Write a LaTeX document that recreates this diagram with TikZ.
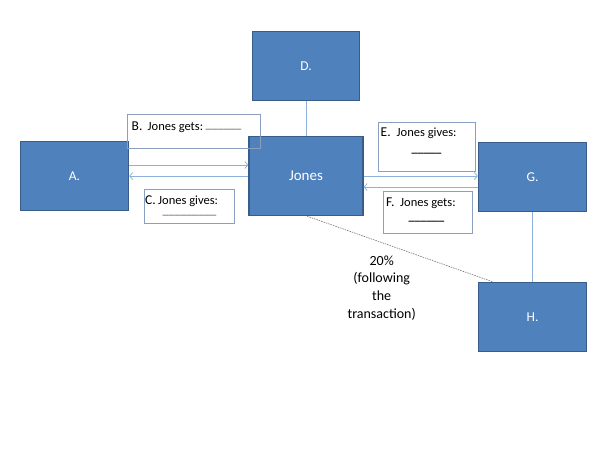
\documentclass[tikz,border=0pt]{standalone}
\usepackage{fontspec}
\setmainfont{Carlito}
\usetikzlibrary{arrows.meta,calc}
\definecolor{boxfill}{HTML}{4F81BD}
\definecolor{boxline}{HTML}{385D8A}
\definecolor{connc}{HTML}{8EB1DC}
\definecolor{tbline}{HTML}{8A9FC0}
\definecolor{ulgray}{HTML}{7F7F7F}
\begin{document}
\begin{tikzpicture}[x=1pt,y=-1pt,
  bluebox/.style={draw=boxline, fill=boxfill, line width=1.3pt, inner sep=0pt, text=white, font=\fontsize{13.5}{16}\selectfont},
  notebox/.style={draw=tbline, line width=0.8pt, inner sep=0pt},
  conn/.style={draw=connc, line width=0.8pt},
  arr/.style={conn, -{Straight Barb[length=3pt,width=7pt]}},
  lbl/.style={anchor=base west, inner sep=0pt, font=\fontsize{12.5}{14}\selectfont},
  letter/.style={anchor=base west, inner sep=0pt, font=\fontsize{13.5}{15}\selectfont},
  uline/.style={anchor=base, inner sep=0pt, text height=0pt, text depth=2pt, font=\fontsize{12}{14}\selectfont\bfseries},
  pct/.style={anchor=base, inner sep=0pt, font=\fontsize{14}{17}\selectfont}]
\useasboundingbox (0,0) rectangle (600,450);

% blue boxes
\node[bluebox, minimum width=108pt, minimum height=69pt] (A) at (74.5,176) {A.};
\node[bluebox, minimum width=107pt, minimum height=69pt] (D) at (306,66) {D.};
\node[bluebox, minimum width=114pt, minimum height=79pt, font=\fontsize{15}{18}\selectfont] (J) at (306,176) {Jones};
\node[bluebox, minimum width=108pt, minimum height=69pt] (G) at (532.5,177) {G.};
\node[bluebox, minimum width=108pt, minimum height=69pt] (H) at (532.5,317) {H.};

% connectors
\draw[conn] (D.south) -- (J.north);
\draw[conn] (G.south) -- (H.north);
\draw[arr] ([yshift=11pt]A.east) -- ([yshift=11pt]A.east -| J.west);
\draw[arr] (J.west) -- (A.east);
\draw[arr] (J.east) -- (J.east -| G.west);
\draw[arr] ([yshift=-10pt]G.west) -- ([yshift=-10pt]G.west -| J.east);
\draw[draw=gray!90!black, line width=0.6pt, dash pattern=on 1.5pt off 1pt] ([xshift=1pt]J.south) -- ([xshift=15pt]H.north west);

% note boxes
\node[notebox, minimum width=133pt, minimum height=34pt] (B) at (193.5,131) {};
\node[notebox, minimum width=90pt, minimum height=34pt] (C) at (189,206) {};
\node[notebox, minimum width=97.5pt, minimum height=48.5pt] (E) at (426.75,146.75) {};
\node[notebox, minimum width=89pt, minimum height=42pt] (F) at (427.5,212) {};

% texts
\node[letter] (Bl) at (131.5,130) {B.};
\node[lbl] (Bt) at (147.5,130) {Jones gets:};
\node[uline, text=ulgray] (Bu) at (223.5,128.5) {\_\_\_\_\_\_};
\node[letter] (Cl) at (145,204) {C.};
\node[lbl] (Ct) at (158,204) {Jones gives:};
\node[uline, text=ulgray] (Cu) at (189.5,214.5) {\_\_\_\_\_\_\_\_\_};
\node[letter] (El) at (380.5,136) {E.};
\node[lbl] (Et) at (396.5,136) {Jones gives:};
\node[uline] (Eu) at (426.5,152.5) {\_\_\_\_\_};
\node[letter] (Fl) at (386,206.5) {F.};
\node[lbl] (Ft) at (400,206.5) {Jones gets:};
\node[uline] (Fu) at (426.5,220.5) {\_\_\_\_\_\_};

\node[pct] (p1) at (381.7,265) {20\%};
\node[pct] (p2) at (381.7,282.7) {(following};
\node[pct] (p3) at (381.7,300.2) {the};
\node[pct] (p4) at (381.7,318) {transaction)};
\end{tikzpicture}
\end{document}
